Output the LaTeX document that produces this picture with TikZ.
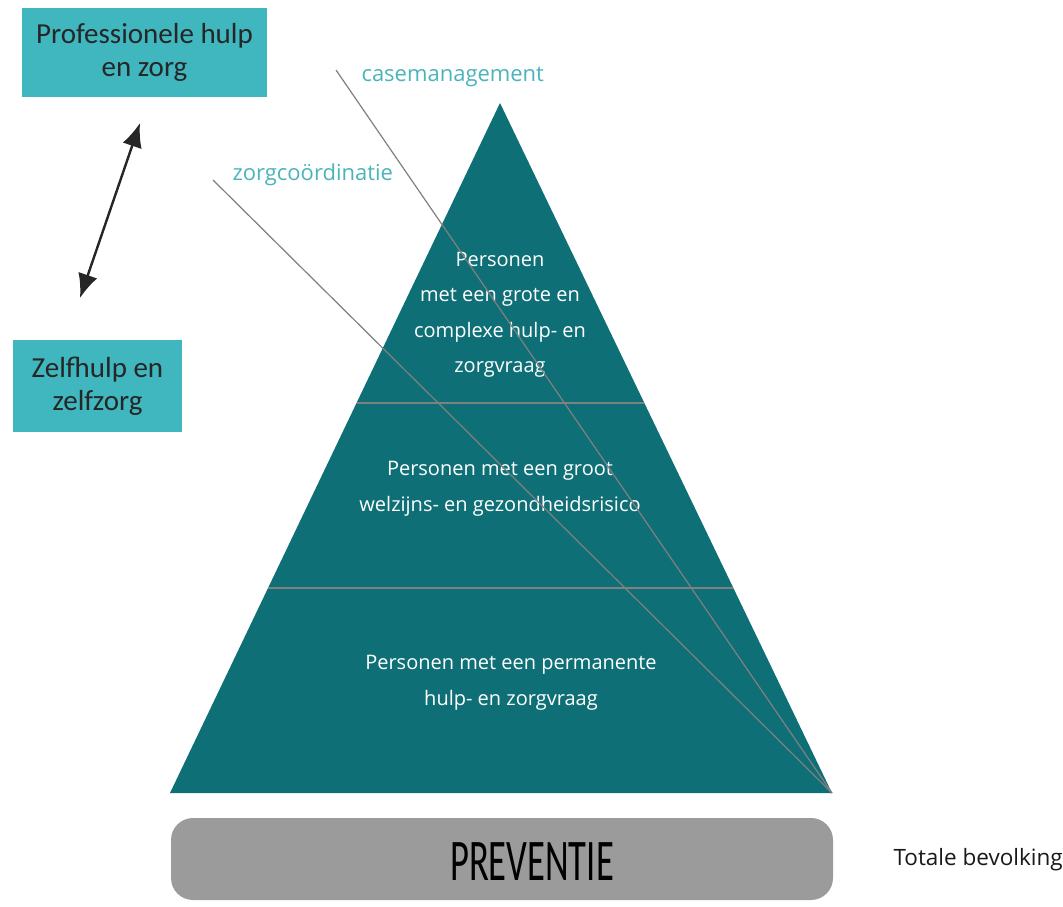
\documentclass[tikz,border=0pt]{standalone}
\usepackage{fontspec}
\setmainfont{Open Sans}
\newfontfamily\boxfont{Carlito}
\usepackage{tikz}
\usetikzlibrary{calc,arrows.meta}
\definecolor{pyrteal}{RGB}{14,112,118}
\definecolor{boxteal}{RGB}{64,182,190}
\definecolor{labteal}{RGB}{75,180,186}
\definecolor{prevgray}{RGB}{155,155,155}
\tikzset{
  boxnode/.style={fill=boxteal,inner sep=0pt,align=center,text=black!85,font=\boxfont\fontsize{29}{33}\selectfont},
  pyrtext/.style={text=white,align=center,font=\fontsize{20}{35.5}\selectfont},
  toplabel/.style={text=labteal,anchor=west,font=\fontsize{22}{26}\selectfont},
  cutline/.style={draw=black!50,line width=1.2pt}
}
\begin{document}
\begin{tikzpicture}[x=1pt,y=-1pt]
\useasboundingbox[fill=white] (0.000000,0.000000) rectangle (1063.000000,907.000000);
% Drawing pyramid
\coordinate (apex) at (500.000000,103.000000);
\coordinate (baseL) at (170.000000,793.000000);
\coordinate (baseR) at (832.000000,793.000000);
\fill[pyrteal] (apex) -- (baseR) -- (baseL) -- cycle;
% Band dividers
\draw[cutline] ($(baseL)!0.5652!(apex)$) -- ($(baseR)!0.5652!(apex)$);
\draw[cutline] ($(baseL)!0.2971!(apex)$) -- ($(baseR)!0.2971!(apex)$);
% Done with pyramid; drawing texts in bands
\node[pyrtext] (top) at (500.000000,315.000000) {Personen\\met een grote en\\complexe hulp- en\\zorgvraag};
\node[pyrtext] (mid) at (500.000000,489.000000) {Personen met een groot\\welzijns- en gezondheidsrisico};
\node[pyrtext] (low) at (511.000000,683.000000) {Personen met een permanente\\hulp- en zorgvraag};
% Drawing lines to bottom corner
\node[toplabel] (cm) at (358.000000,77.000000) {casemanagement};
\node[toplabel] (zc) at (229.000000,175.000000) {zorgco\"ordinatie};
\coordinate (cmstart) at (336.000000,70.000000);
\coordinate (zcstart) at (213.000000,180.000000);
\draw[cutline] (cmstart) -- (baseR);
\draw[cutline] (zcstart) -- (baseR);
% Drawing left boxes
\node[boxnode,minimum width=245pt,minimum height=89pt] (prof) at (144.500000,52.500000) {Professionele hulp\\en zorg};
\node[boxnode,minimum width=169pt,minimum height=92pt] (zelf) at (97.500000,386.000000) {Zelfhulp en\\zelfzorg};
\coordinate (arrtop) at (140.000000,123.000000);
\coordinate (arrbot) at (80.000000,298.000000);
\draw[black!85,line width=2.4pt,{Latex[length=24pt,width=20pt]}-{Latex[length=24pt,width=20pt]}] (arrtop) -- (arrbot);
% Drawing preventie bar
\node[fill=prevgray,rounded corners=22pt,minimum width=662pt,minimum height=82pt,inner sep=0pt] (prev) at (502.000000,859.000000) {};
\node[text=black,xscale=0.62,font=\boxfont\fontsize{59}{64}\selectfont] (prevtxt) at (532.000000,862.000000) {PREVENTIE};
\node[anchor=west,text=black!90,font=\fontsize{22.5}{26}\selectfont] (tot) at (890.000000,860.000000) {Totale bevolking};
% Done
\end{tikzpicture}
\end{document}
